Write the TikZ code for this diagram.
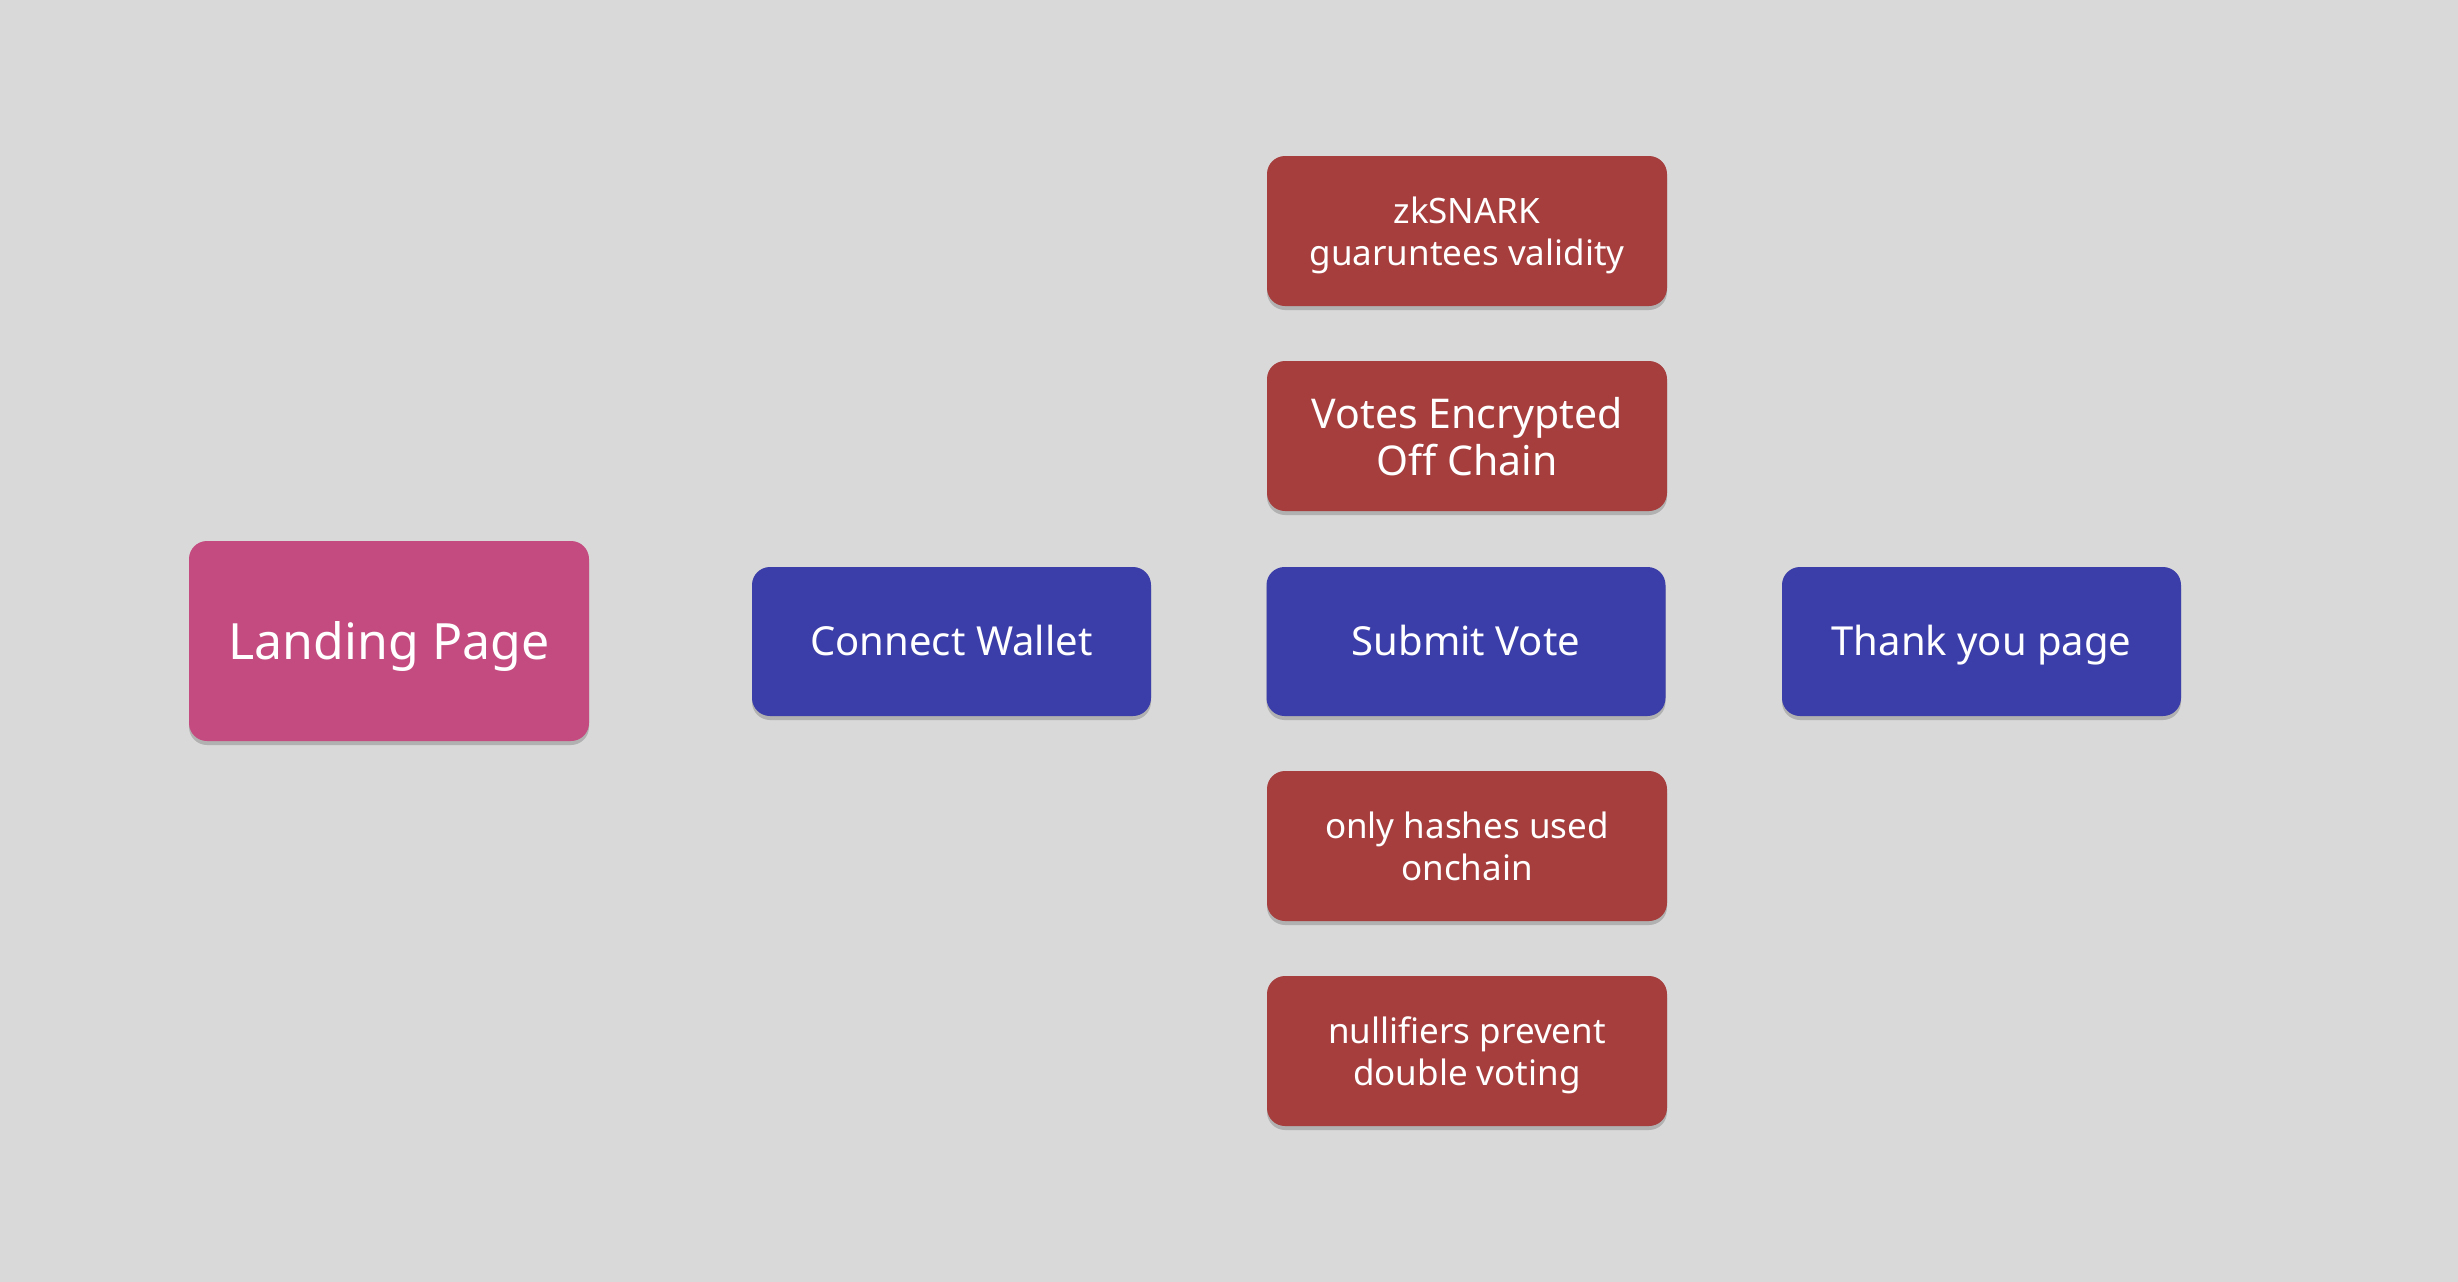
\documentclass[tikz,border=0pt]{standalone}
\usepackage{fontspec}
\setmainfont{Noto Sans}
\usetikzlibrary{shadows}
\definecolor{bgc}{RGB}{217,217,217}
\definecolor{pinkc}{RGB}{196,75,127}
\definecolor{bluec}{RGB}{59,61,168}
\definecolor{redc}{RGB}{166,62,62}
\tikzset{
  card/.style={rounded corners=18pt, text=white, align=center, inner sep=0pt,
    drop shadow={shadow xshift=0pt, shadow yshift=-4pt, opacity=0.18, fill=black}},
  twoline/.style={text depth=0pt},
  pinkcard/.style={card, text height=36pt, text depth=0pt, fill=pinkc, minimum width=400pt, minimum height=200pt, font=\fontsize{50}{60}\selectfont},
  bluecard/.style={card, text height=28.5pt, text depth=0pt, fill=bluec, minimum width=399pt, minimum height=149pt, font=\fontsize{40}{48}\selectfont},
  redcard/.style={card, twoline, fill=redc, minimum width=400pt, minimum height=150pt, font=\fontsize{35}{42}\selectfont},
  redbig/.style={redcard, font=\fontsize{41}{47}\selectfont},
}
\begin{document}
\begin{tikzpicture}[x=1pt,y=-1pt]
\fill[bgc] (0,0) rectangle (2458,1282);
\useasboundingbox (0,0) rectangle (2458,1282);
\node[pinkcard] (landing) at (389,641) {Landing Page};
\node[bluecard] (connect) at (951.5,641.5) {Connect Wallet};
\node[bluecard] (submit) at (1466,641.5) {Submit Vote};
\node[bluecard] (thanks) at (1981.5,641.5) {Thank you page};
\node[redcard] (zk) at (1467,231) {zkSNARK\\guaruntees validity};
\node[redbig] (votes) at (1467,436) {Votes Encrypted\\Off Chain};
\node[redcard] (hashes) at (1467,846) {only hashes used\\onchain};
\node[redcard] (nullifiers) at (1467,1051) {nullifiers prevent\\double voting};
\end{tikzpicture}
\end{document}
